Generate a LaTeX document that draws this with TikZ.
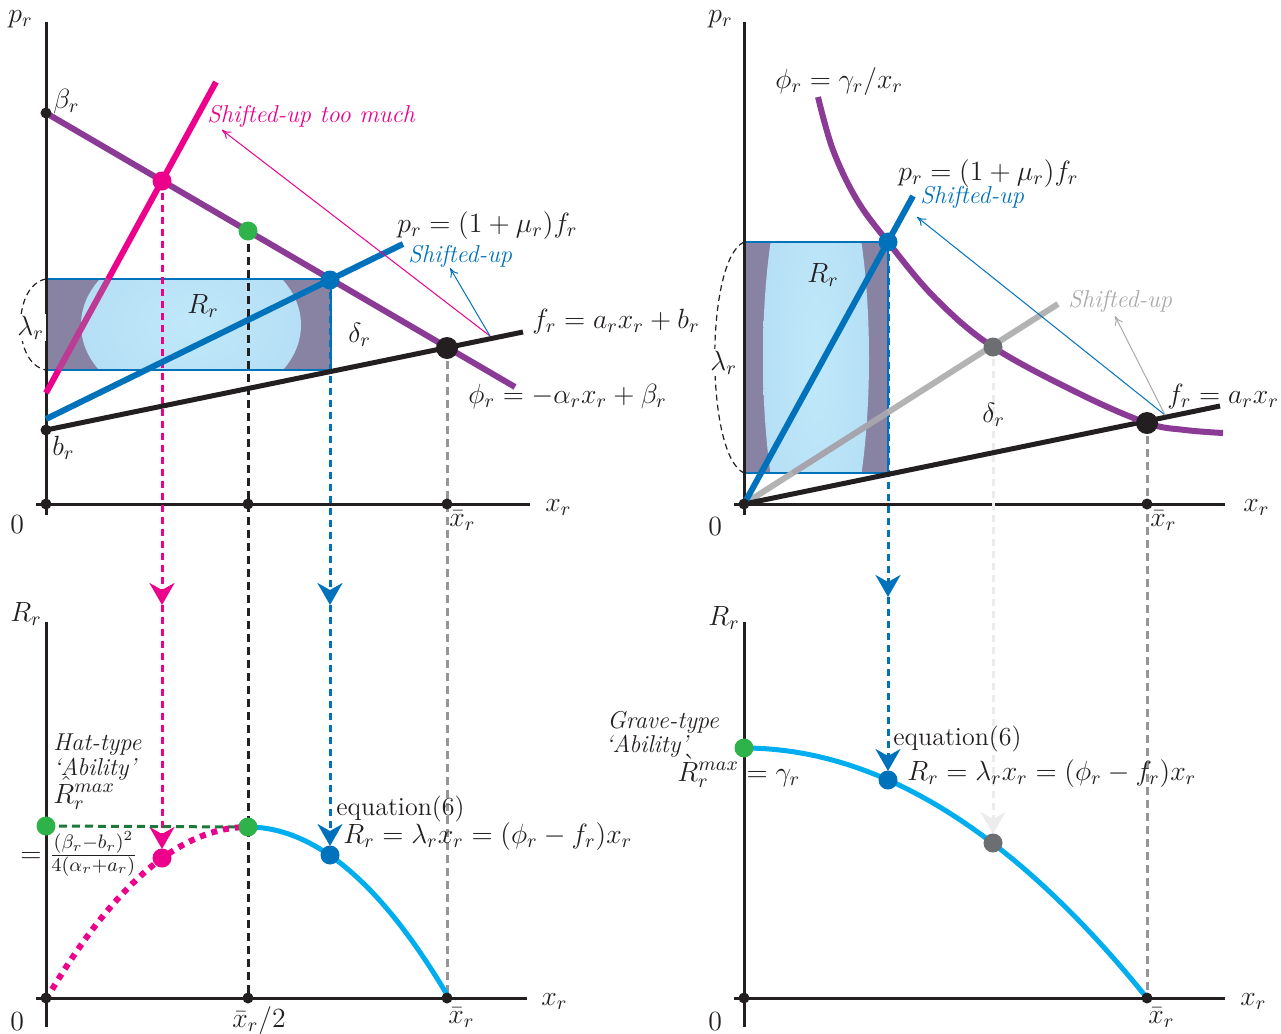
\RequirePackage{fix-cm}
\documentclass[tikz,border=0pt]{standalone}
\usetikzlibrary{arrows.meta}
\newcommand\myfs{\fontsize{13.9}{16}\selectfont}
\newcommand\mytxfs{\fontsize{13}{16}\selectfont}
\newcommand\myitfs{\fontsize{12.2}{15}\selectfont\itshape}
\definecolor{cPur}{RGB}{139,58,150}
\definecolor{cPink}{RGB}{236,0,140}
\definecolor{cBlue}{RGB}{0,114,188}
\definecolor{cCyan}{RGB}{0,174,239}
\definecolor{cGreen}{RGB}{45,179,74}
\definecolor{cDkGreen}{RGB}{30,120,60}
\definecolor{cBlk}{RGB}{35,31,32}
\definecolor{cGreyL}{RGB}{179,179,179}
\definecolor{cGreyD}{RGB}{109,110,113}
\definecolor{cGreyM}{RGB}{150,150,150}
\definecolor{cGreyT}{RGB}{170,170,170}
\definecolor{cFaint}{RGB}{236,236,236}
\definecolor{glowC}{RGB}{192,232,250}
\definecolor{glowM}{RGB}{180,222,244}
\definecolor{glowE}{RGB}{184,210,238}
\definecolor{glowR}{RGB}{212,204,232}
\definecolor{glowD}{RGB}{136,131,162}
\pgfdeclareradialshading{glowsh}{\pgfpoint{0bp}{0bp}}{color(0bp)=(glowC); color(28bp)=(glowM); color(42bp)=(glowE); color(45.5bp)=(glowR); color(48.5bp)=(glowD); color(50bp)=(glowD)}
\begin{document}
\begin{tikzpicture}[x=0.5pt,y=-0.5pt,
  axisln/.style={draw=cBlk,line width=1.5pt},
  tdot/.style={circle,fill=cBlk,inner sep=0pt,minimum size=5.5pt},
  cdot/.style={circle,fill=#1,inner sep=0pt,minimum size=9.5pt},
  bigdot/.style={circle,fill=cBlk,inner sep=0pt,minimum size=11pt},
  thk/.style={line width=3pt},
  vdash/.style={line width=1.5pt,dash pattern=on 3.5pt off 2.5pt},
  dtip/.style={-{Stealth[length=11pt,width=12.5pt,inset=3.5pt]}},
  thinar/.style={line width=0.5pt,-{To[length=4.5pt,width=4.5pt]}},
  lbl/.style={anchor=base west,inner sep=0pt,font=\myfs,text=cBlk},
  txl/.style={anchor=base west,inner sep=0pt,font=\mytxfs,text=cBlk},
  itl/.style={anchor=base west,inner sep=0pt,font=\myitfs,text=cBlk},
  rectedge/.style={draw=cBlue,line width=1pt},
]
\useasboundingbox (0,0) rectangle (1281,1034);

% ---------------- coordinates ----------------
% left top
\coordinate (A-yt) at (46,22);   \coordinate (A-yb) at (46,515);
\coordinate (A-xl) at (36,504);  \coordinate (A-xr) at (530,504);
\coordinate (A-o) at (46,504);   \coordinate (A-t1) at (248,504); \coordinate (A-t2) at (447,504);
\coordinate (A-beta) at (46,113); \coordinate (A-phiE) at (515,387);
\coordinate (A-b) at (46,430);   \coordinate (A-fE) at (523,332);
\coordinate (A-p0) at (46,419);  \coordinate (A-pE) at (403,244);
\coordinate (A-k0) at (46,393);  \coordinate (A-kE) at (216,82);
\coordinate (A-eq) at (447,348);
\coordinate (A-pk) at (162,181); \coordinate (A-gr) at (248,231); \coordinate (A-bl) at (330,280);
\coordinate (A-src) at (490,336);
\coordinate (A-tipk) at (222,130); \coordinate (A-tipb) at (450,268);
\coordinate (A-mk) at (162,605); \coordinate (A-mb) at (330,605);
% left bottom
\coordinate (B-yt) at (46,622);  \coordinate (B-yb) at (46,1027);
\coordinate (B-xl) at (36,998);  \coordinate (B-xr) at (527,998);
\coordinate (B-o) at (46,998);   \coordinate (B-t1) at (248,998); \coordinate (B-t2) at (447,998);
\coordinate (B-g0) at (46,826);  \coordinate (B-gr) at (248,827);
\coordinate (B-pk) at (162,858); \coordinate (B-bl) at (330,855);
% right top
\coordinate (C-yt) at (744,22);  \coordinate (C-yb) at (744,515);
\coordinate (C-xl) at (734,504); \coordinate (C-xr) at (1225,504);
\coordinate (C-o) at (744,504);  \coordinate (C-t2) at (1147,504);
\coordinate (C-fE) at (1220,406); \coordinate (C-eq) at (1147,423);
\coordinate (C-pE) at (913,196); \coordinate (C-bl) at (888,242);
\coordinate (C-gE) at (1058,304); \coordinate (C-gy) at (993,347);
\coordinate (C-src) at (1165,415);
\coordinate (C-tipb) at (917,217); \coordinate (C-tipg) at (1115,316);
\coordinate (C-mb) at (888,597);
% right bottom
\coordinate (D-yt) at (744,622); \coordinate (D-yb) at (744,1027);
\coordinate (D-xl) at (734,998); \coordinate (D-xr) at (1225,998);
\coordinate (D-o) at (744,998);  \coordinate (D-t2) at (1147,998);
\coordinate (D-gr) at (744,748); \coordinate (D-bl) at (888,780); \coordinate (D-gy) at (993,843);

% ---------------- shaded rectangles ----------------
\begin{scope}
  \clip (46,279) rectangle (331,370);
  \fill[glowD] (46,279) rectangle (331,370);
  \shade[shading=glowsh] (191,325) ellipse [x radius=55pt, y radius=41pt];
\end{scope}
\draw[rectedge] (46,279) rectangle (331,370);
\begin{scope}
  \clip (744,242) rectangle (888,473);
  \fill[glowD] (744,242) rectangle (888,473);
  \shade[shading=glowsh] (816,358) ellipse [x radius=26.5pt, y radius=112.5pt];
\end{scope}
\draw[rectedge] (744,242) rectangle (888,473);

% lambda arcs
\draw[cBlk,line width=0.6pt,dash pattern=on 3pt off 2pt] (46,279) .. controls (12,285) and (12,364) .. (46,370);
\draw[cBlk,line width=0.6pt,dash pattern=on 3pt off 2pt] (744,242) .. controls (705,260) and (705,455) .. (744,473);

% ---------------- axes ----------------
\draw[axisln] (A-yt) -- (A-yb);  \draw[axisln] (A-xl) -- (A-xr);
\draw[axisln] (B-yt) -- (B-yb);  \draw[axisln] (B-xl) -- (B-xr);
\draw[axisln] (C-yt) -- (C-yb);  \draw[axisln] (C-xl) -- (C-xr);
\draw[axisln] (D-yt) -- (D-yb);  \draw[axisln] (D-xl) -- (D-xr);

% ---------------- dashed verticals ----------------
\draw[vdash,cPink,dtip] (A-pk) -- (A-mk);
\draw[vdash,cPink,dtip,shorten >=4.5pt] (A-mk) -- (B-pk);
\draw[vdash,cBlue,dtip] (A-bl) -- (A-mb);
\draw[vdash,cBlue,dtip,shorten >=4.5pt] (A-mb) -- (B-bl);
\draw[vdash,cBlk,dash pattern=on 4pt off 2.5pt] (A-gr) -- (B-t1);
\draw[vdash,cGreyM,dash pattern=on 4pt off 2.5pt] (A-eq) -- (B-t2);
\draw[vdash,cDkGreen,dash pattern=on 4pt off 2.5pt] (B-g0) -- (B-gr);
\draw[vdash,cBlue,dtip] (C-bl) -- (C-mb);
\draw[vdash,cBlue,dtip,shorten >=4.5pt] (C-mb) -- (D-bl);
\draw[vdash,cFaint,dtip,shorten >=4.5pt] (C-gy) -- (D-gy);
\draw[vdash,cGreyM,dash pattern=on 4pt off 2.5pt] (C-eq) -- (D-t2);

% ---------------- thick lines (left top) ----------------
\draw[thk,cPink] (A-k0) -- (A-kE);
\draw[line width=3pt,glowD,opacity=0.45] (58.6,370) -- (108.3,279);
\draw[thk,cPur] (A-beta) -- (A-phiE);
\draw[line width=2.5pt,cBlk] (A-b) -- (A-fE);
\draw[thk,cBlue] (A-p0) -- (A-pE);
\draw[thinar,cPink] (A-src) -- (A-tipk);
\draw[thinar,cBlue] (A-src) -- (A-tipb);

% ---------------- thick lines (right top) ----------------
\draw[thk,cGreyL] (C-o) -- (C-gE);
\draw[line width=3pt,glowD,opacity=0.3] (792.7,473) -- (888,412.3);
\draw[line width=2.5pt,cBlk] (C-o) -- (C-fE);
\draw[thk,cPur] plot[smooth,tension=0.6] coordinates {(818,97) (833,150) (857,200) (888,242) (935,298) (993,347) (1080,394) (1147,423) (1185,430) (1223,433)};
\draw[thk,cBlue] (C-o) -- (C-pE);
\draw[thinar,cBlue] (C-src) -- (C-tipb);
\draw[thinar,cGreyT] (C-src) -- (C-tipg);

% ---------------- curves (bottom) ----------------
\draw[line width=3pt,cPink,dash pattern=on 3pt off 3pt] plot[domain=46:244,samples=40] (\x,{998-171*(1-((\x-248)/201)^2)});
\draw[line width=2.5pt,cCyan] plot[domain=248:447,samples=40] (\x,{998-171*(1-((\x-248)/201)^2)});
\draw[line width=2.5pt,cCyan] plot[domain=744:1147,samples=40] (\x,{748+250*((\x-744)/403)^2});

% ---------------- dots ----------------
\node[tdot] (nAo) at (A-o) {};   \node[tdot] (nAt1) at (A-t1) {}; \node[tdot] (nAt2) at (A-t2) {};
\node[tdot] (nAbeta) at (A-beta) {}; \node[tdot] (nAb) at (A-b) {};
\node[bigdot] (nAeq) at (A-eq) {};
\node[cdot=cPink] (nApk) at (A-pk) {};
\node[cdot=cGreen] (nAgr) at (A-gr) {};
\node[cdot=cBlue] (nAbl) at (A-bl) {};
\node[tdot] (nBo) at (B-o) {};   \node[tdot] (nBt1) at (B-t1) {}; \node[tdot] (nBt2) at (B-t2) {};
\node[cdot=cGreen] (nBg0) at (B-g0) {};
\node[cdot=cGreen] (nBgr) at (B-gr) {};
\node[cdot=cPink] (nBpk) at (B-pk) {};
\node[cdot=cBlue] (nBbl) at (B-bl) {};
\node[tdot] (nCo) at (C-o) {};   \node[tdot] (nCt2) at (C-t2) {};
\node[bigdot] (nCeq) at (C-eq) {};
\node[cdot=cBlue] (nCbl) at (C-bl) {};
\node[cdot=cGreyD] (nCgy) at (C-gy) {};
\node[tdot] (nDo) at (D-o) {};   \node[tdot] (nDt2) at (D-t2) {};
\node[cdot=cGreen] (nDgr) at (D-gr) {};
\node[cdot=cBlue] (nDbl) at (D-bl) {};
\node[cdot=cGreyD] (nDgy) at (D-gy) {};

% ---------------- labels: left top ----------------
\node[lbl] (LApr) at (8,22) {$p_r$};
\node[lbl] (LAbeta) at (53,108) {$\beta_r$};
\node[lbl] (LAb) at (52,455) {$b_r$};
\node[lbl,fill=white,inner sep=1pt] (LAlam) at (15,335) {$\lambda_r$};
\node[lbl] (LAR) at (187,313) {$R_r$};
\node[lbl] (LAdel) at (348,342) {$\delta_r$};
\node[lbl] (LA0) at (10,533) {$0$};
\node[lbl] (LAx) at (545,511) {$x_r$};
\node[lbl] (LAxb) at (449,526) {$\bar{x}_r$};
\node[itl,text=cPink] (LAtoo) at (207,122) {Shifted-up too much};
\node[lbl] (LApeq) at (397,232) {$p_r=(1+\mu_r)f_r$};
\node[itl,text=cBlue] (LAsh) at (408,262) {Shifted-up};
\node[lbl] (LAfeq) at (532,328) {$f_r=a_rx_r+b_r$};
\node[lbl] (LAphi) at (468,403) {$\phi_r=-\alpha_rx_r+\beta_r$};

% ---------------- labels: left bottom ----------------
\node[lbl] (LBR) at (10,621) {$R_r$};
\node[itl] (LBhat) at (53,750) {Hat-type};
\node[itl] (LBab) at (53,775) {`Ability'};
\node[lbl] (LBrmax) at (53,803) {$\hat{R}_r^{max}$};
\node[lbl] (LBfrac) at (20,862) {$=\frac{(\beta_r-b_r)^2}{4(\alpha_r+a_r)}$};
\node[txl] (LBeqn) at (336,815) {equation(6)};
\node[lbl] (LBrel) at (343,843) {$R_r=\lambda_rx_r=(\phi_r-f_r)x_r$};
\node[lbl] (LB0) at (10,1030) {$0$};
\node[lbl] (LBhalf) at (232,1027) {$\bar{x}_r/2$};
\node[lbl] (LBxb) at (448,1023) {$\bar{x}_r$};
\node[lbl] (LBx) at (541,1005) {$x_r$};

% ---------------- labels: right top ----------------
\node[lbl] (LCpr) at (708,22) {$p_r$};
\node[lbl] (LCphi) at (775,88) {$\phi_r=\gamma_r/x_r$};
\node[lbl] (LCpeq) at (898,180) {$p_r=(1+\mu_r)f_r$};
\node[itl,text=cBlue] (LCsh) at (920,203) {Shifted-up};
\node[itl,text=cGreyT] (LCshg) at (1068,307) {Shifted-up};
\node[lbl] (LCfeq) at (1167,403) {$f_r=a_rx_r$};
\node[lbl] (LCR) at (807,282) {$R_r$};
\node[lbl,fill=white,inner sep=1pt] (LClam) at (708,370) {$\lambda_r$};
\node[lbl] (LCdel) at (982,422) {$\delta_r$};
\node[lbl] (LC0) at (708,535) {$0$};
\node[lbl] (LCx) at (1243,511) {$x_r$};
\node[lbl] (LCxb) at (1150,526) {$\bar{x}_r$};

% ---------------- labels: right bottom ----------------
\node[lbl] (LDR) at (708,625) {$R_r$};
\node[itl] (LDgr) at (607,728) {Grave-type};
\node[itl] (LDab) at (605,752) {`Ability'};
\node[lbl] (LDrmax) at (677,781) {$\grave{R}_r^{max}=\gamma_r$};
\node[txl] (LDeqn) at (893,745) {equation(6)};
\node[lbl] (LDrel) at (907,780) {$R_r=\lambda_rx_r=(\phi_r-f_r)x_r$};
\node[lbl] (LD0) at (708,1030) {$0$};
\node[lbl] (LDxb) at (1148,1023) {$\bar{x}_r$};
\node[lbl] (LDx) at (1240,1005) {$x_r$};
\end{tikzpicture}
\end{document}
